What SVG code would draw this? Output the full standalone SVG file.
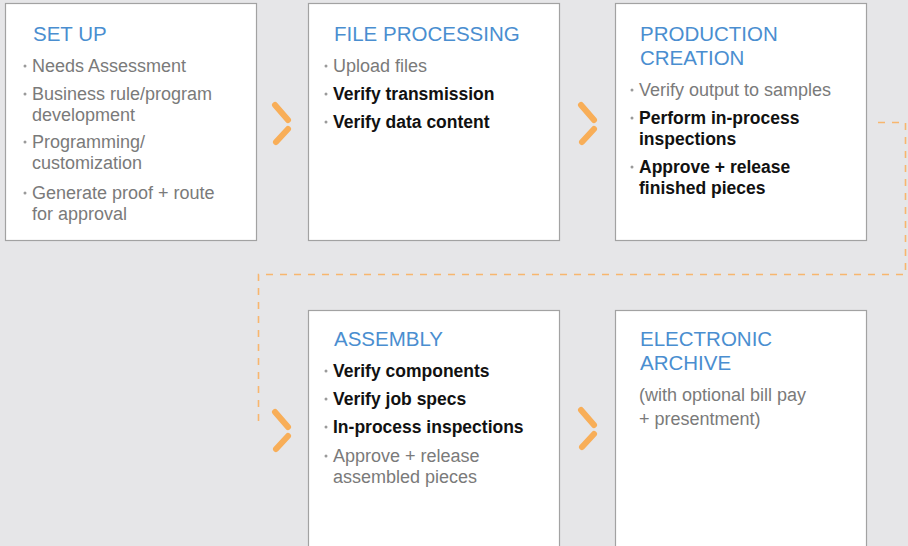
<svg xmlns="http://www.w3.org/2000/svg" width="908" height="546" viewBox="0 0 908 546">
<style>
.bg{fill:#E6E6E8}
.box{fill:#FFFFFF;stroke:#A2A2A2;stroke-width:1.2}
.title{font-family:"Liberation Sans",Arial,sans-serif;font-size:20.5px;fill:#4A8ED0}
.g{font-family:"Liberation Sans",Arial,sans-serif;font-size:18px;fill:#7A7A7A}
.b{font-family:"Liberation Sans",Arial,sans-serif;font-size:17.5px;fill:#111111;font-weight:700}
.dot{fill:#9A9A9A}
.chev{fill:none;stroke:#F8AE58;stroke-width:6;stroke-linecap:round}
.dash{fill:none;stroke:#F8B66E;stroke-width:1.6;stroke-dasharray:7 7}
</style>
<rect class="bg" x="0" y="0" width="908" height="546"/>
<g id="connectors">
<path class="dash" d="M878 122.5 H905.5 V274.5 H258.5 V428"/>
<path class="chev" d="M275 105 L288 120 M288 129 L276 142"/>
<path class="chev" d="M581 105 L594 120 M594 129 L582 142"/>
<path class="chev" d="M275 412 L288 427 M288 436 L276 449"/>
<path class="chev" d="M581 410 L594 425 M594 434 L582 447"/>
</g>
<g id="setup">
<rect class="box" x="5.5" y="3.5" width="251" height="237"/>
<text class="title" x="33" y="41">SET UP</text>
<circle class="dot" cx="25" cy="66" r="1.5"/>
<text class="g" x="32" y="72">Needs Assessment</text>
<circle class="dot" cx="25" cy="94" r="1.5"/>
<text class="g" x="32" y="100">Business rule/program<tspan x="32" dy="21">development</tspan></text>
<circle class="dot" cx="25" cy="142" r="1.5"/>
<text class="g" x="32" y="148">Programming/<tspan x="32" dy="21">customization</tspan></text>
<circle class="dot" cx="25" cy="193" r="1.5"/>
<text class="g" x="32" y="199">Generate proof + route<tspan x="32" dy="21">for approval</tspan></text>
</g>
<g id="fileprocessing">
<rect class="box" x="308.5" y="3.5" width="251" height="237"/>
<text class="title" x="334" y="41">FILE PROCESSING</text>
<circle class="dot" cx="326" cy="66" r="1.5"/>
<text class="g" x="333" y="72">Upload files</text>
<circle class="dot" cx="326" cy="94" r="1.5"/>
<text class="b" x="333" y="100">Verify transmission</text>
<circle class="dot" cx="326" cy="122" r="1.5"/>
<text class="b" x="333" y="128">Verify data content</text>
</g>
<g id="productioncreation">
<rect class="box" x="615.5" y="3.5" width="251" height="237"/>
<text class="title" x="640" y="41">PRODUCTION<tspan x="640" dy="24">CREATION</tspan></text>
<circle class="dot" cx="632" cy="90" r="1.5"/>
<text class="g" x="639" y="96">Verify output to samples</text>
<circle class="dot" cx="632" cy="118" r="1.5"/>
<text class="b" x="639" y="124">Perform in-process<tspan x="639" dy="21">inspections</tspan></text>
<circle class="dot" cx="632" cy="167" r="1.5"/>
<text class="b" x="639" y="173">Approve + release<tspan x="639" dy="21">finished pieces</tspan></text>
</g>
<g id="assembly">
<rect class="box" x="308.5" y="310.5" width="251" height="245"/>
<text class="title" x="334" y="346">ASSEMBLY</text>
<circle class="dot" cx="326" cy="371" r="1.5"/>
<text class="b" x="333" y="377">Verify components</text>
<circle class="dot" cx="326" cy="399" r="1.5"/>
<text class="b" x="333" y="405">Verify job specs</text>
<circle class="dot" cx="326" cy="427" r="1.5"/>
<text class="b" x="333" y="433">In-process inspections</text>
<circle class="dot" cx="326" cy="456" r="1.5"/>
<text class="g" x="333" y="462">Approve + release<tspan x="333" dy="21">assembled pieces</tspan></text>
</g>
<g id="electronicarchive">
<rect class="box" x="615.5" y="310.5" width="251" height="245"/>
<text class="title" x="640" y="346">ELECTRONIC<tspan x="640" dy="24">ARCHIVE</tspan></text>
<text class="g" x="639" y="401">(with optional bill pay<tspan x="639" dy="24">+ presentment)</tspan></text>
</g>
</svg>
